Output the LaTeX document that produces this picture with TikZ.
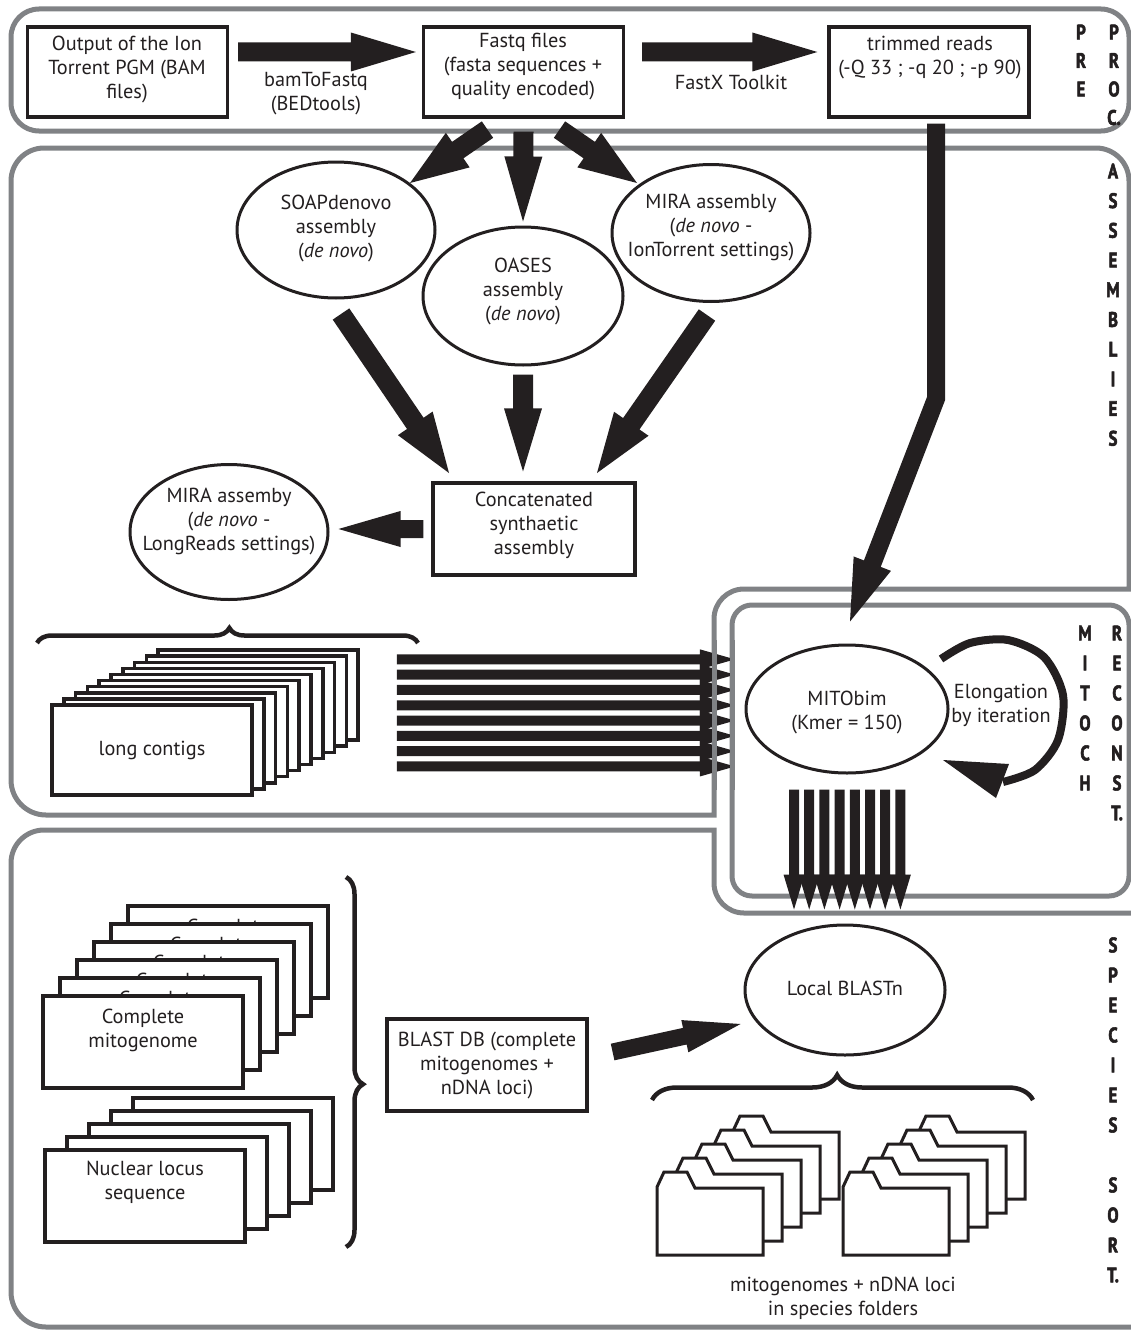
\documentclass[tikz,border=0pt]{standalone}
\usepackage{fontspec}
\setmainfont{PT Sans}
\newfontfamily\sidefont[FakeStretch=0.8,FakeBold=2.5]{PT Sans Bold}
\usetikzlibrary{calc,shapes.geometric,decorations.pathreplacing}
\definecolor{ink}{HTML}{231F20}
\definecolor{panelgray}{HTML}{808285}
% fat arrow: #1 start, #2 tip, #3 half shaft width, #4 head length, #5 half head width
\newcommand\fatarrow[5]{%
  \coordinate (fatC) at ($(#2)!#4!(#1)$);
  \fill[ink] ($(#1)!#3!90:(#2)$) -- ($(fatC)!#3!90:(#2)$) -- ($(fatC)!#5!90:(#2)$) -- (#2)
     -- ($(fatC)!#5!-90:(#2)$) -- ($(fatC)!#3!-90:(#2)$) -- ($(#1)!#3!-90:(#2)$) -- cycle;}
\begin{document}
\begin{tikzpicture}[x=1pt,y=-1pt,
  panel/.style={draw=panelgray, line width=5pt},
  box/.style={draw=ink, line width=3.2pt, fill=white, minimum width=200pt, minimum height=90pt, inner sep=0pt},
  ell/.style={ellipse, draw=ink, line width=3pt, fill=white, inner sep=0pt},
  txt/.style={align=center, font=\fontsize{20.3}{24}\selectfont, text=ink, inner sep=0pt},
  sidelab/.style={font=\sidefont\fontsize{21}{21}\selectfont, text=ink, inner sep=0pt},
  brc/.style={draw=ink, line width=4.5pt, decorate},
  folder/.style={draw=ink, line width=3pt, fill=white, line join=miter}]
\useasboundingbox (0,0) rectangle (1131,1330);

% ---------- panels ----------
\draw[panel, rounded corners=28pt] (11,9) rectangle (1129,131);
\draw[panel] (714,815) -- (46,815) arc[start angle=90,end angle=180,radius=35]
  -- (11,181) arc[start angle=180,end angle=270,radius=33]
  -- (1096,148) arc[start angle=270,end angle=360,radius=33]
  -- (1129,589) -- (744,589) arc[start angle=270,end angle=180,radius=30] -- cycle;
\draw[panel] (1140,1327) -- (46,1327) arc[start angle=90,end angle=180,radius=35]
  -- (11,863) arc[start angle=180,end angle=270,radius=33]
  -- (714,830) -- (714,883) arc[start angle=180,end angle=90,radius=30] -- (1140,913);
\draw[panel, rounded corners=20pt] (732,605) rectangle (1129,896);

% ---------- side labels ----------
\foreach \l [count=\i] in {P,R,E} \node[sidelab] (pre\i) at (1081,{32+28.5*(\i-1)}) {\l};
\foreach \l [count=\i] in {P,R,O,C.} \node[sidelab] (proc\i) at (1114,{32+28.5*(\i-1)}) {\l};
\foreach \l [count=\i] in {A,S,S,E,M,B,L,I,E,S} \node[sidelab] (asm\i) at (1113,{171+29.7*(\i-1)}) {\l};
\foreach \l [count=\i] in {M,I,T,O,C,H} \node[sidelab] (mit\i) at (1085,{633+30*(\i-1)}) {\l};
\foreach \l [count=\i] in {R,E,C,O,N,S,T.} \node[sidelab] (rec\i) at (1117,{633+30*(\i-1)}) {\l};
\foreach \l [count=\i] in {S,P,E,C,I,E,S} \node[sidelab] (spe\i) at (1113,{945+30*(\i-1)}) {\l};
\foreach \l [count=\i] in {S,O,R,T.} \node[sidelab] (srt\i) at (1113,{1185+30*(\i-1)}) {\l};

% ---------- top row ----------
\node[box] (b1) at (127.5,72) {};
\node[box] (b2) at (523.5,72) {};
\node[box] (b3) at (929,72) {};
\node[txt] (t1) at (127,70) {Output of the Ion\\Torrent PGM (BAM\\files)};
\node[txt] (t2) at (523,67) {Fastq files\\(fasta sequences +\\quality encoded)};
\node[txt] (t3) at (930,58) {trimmed reads\\(-Q 33 ; -q 20 ; -p 90)};
\node[txt] (l1) at (316,94) {bamToFastq\\(BEDtools)};
\node[txt] (l2) at (731,82) {FastX Toolkit};
\coordinate (a1s) at ($(b1.east)+(9,-20)$);
\coordinate (a1e) at ($(b2.west)+(-6,-20)$);
\fatarrow{a1s}{a1e}{9.5pt}{65pt}{19.5pt}
\coordinate (a2s) at ($(b2.east)+(17,-20)$);
\coordinate (a2e) at ($(b3.west)+(-10,-20)$);
\fatarrow{a2s}{a2e}{9.5pt}{65pt}{19.5pt}

% ---------- assemblies ----------
\node[ell, minimum width=198pt, minimum height=136pt] (soap) at (336,230) {};
\node[ell, minimum width=198pt, minimum height=137pt] (mira1) at (711,233) {};
\node[ell, minimum width=200pt, minimum height=138pt] (oases) at (523,296) {};
\node[box, minimum width=202pt, minimum height=92pt] (concat) at (534,529) {};
\node[ell, minimum width=198pt, minimum height=135pt] (mira2) at (229,532) {};
\node[txt] (t4) at (336,229) {SOAPdenovo\\assembly\\(\textit{de novo})};
\node[txt] (t5) at (523,292) {OASES\\assembly\\(\textit{de novo})};
\node[txt] (t6) at (711,228) {MIRA assembly\\(\textit{de novo} -\\IonTorrent settings)};
\node[txt] (t7) at (534,525) {Concatenated\\synthaetic\\assembly};
\node[txt] (t8) at (229,522) {MIRA assemby\\(\textit{de novo} -\\LongReads settings)};

\coordinate (f1s) at ($(b2.south)+(-36,11)$);
\coordinate (f1e) at ($(soap.center)+(74,-47)$);
\fatarrow{f1s}{f1e}{10pt}{58pt}{21pt}
\coordinate (f2s) at ($(b2.south)+(0,13)$);
\coordinate (f2e) at ($(oases.north)+(0,-4)$);
\fatarrow{f2s}{f2e}{10pt}{65pt}{19pt}
\coordinate (f3s) at ($(b2.south)+(36,11)$);
\coordinate (f3e) at ($(mira1.center)+(-74,-50)$);
\fatarrow{f3s}{f3e}{10pt}{58pt}{21pt}

\coordinate (c1s) at ($(soap.center)+(5,84)$);
\coordinate (c1e) at ($(concat.center)+(-85,-56)$);
\fatarrow{c1s}{c1e}{10pt}{60pt}{21pt}
\coordinate (c2s) at ($(oases.south)+(0,8)$);
\coordinate (c2e) at ($(concat.north)+(-11,-10)$);
\fatarrow{c2s}{c2e}{10pt}{63pt}{19pt}
\coordinate (c3s) at ($(mira1.center)+(-4,82)$);
\coordinate (c3e) at ($(concat.center)+(63,-56)$);
\fatarrow{c3s}{c3e}{10pt}{60pt}{21pt}
\coordinate (c4s) at ($(concat.west)+(-8,0)$);
\coordinate (c4e) at ($(mira2.east)+(9,-3)$);
\fatarrow{c4s}{c4e}{9pt}{62pt}{18pt}

% long contigs stack
\foreach \i in {9,...,0} \node[box, line width=3.5pt] (lc\i) at ({152+11.8*\i},{750-6.1*\i}) {};
\node[txt] (t14) at (lc0) {long contigs};
\draw[brc, decoration={brace, amplitude=15pt, aspect=0.505}] (37,643) -- (418,643);

% ---------- mito ----------
\node[ell, minimum width=202pt, minimum height=128pt] (mito) at (847,709) {};
\node[txt] (t9) at (847,712) {MITObim\\(Kmer = 150)};
\node[txt] (t10) at (1001,705) {Elongation\\by iteration};
\draw[ink, line width=8pt] plot[smooth] coordinates {(941,659) (970,643) (1008,640) (1044,657) (1063,695) (1058,740) (1035,770) (1003,782)};
\fill[ink] (943,760) -- (1009,764) -- (996,798) -- cycle;

% long arrow from trimmed reads to MITObim
\coordinate (la1) at ($(b3.south)+(7,5)$);
\coordinate (la2) at ($(b3.south)+(7,280)$);
\coordinate (la3) at ($(mito.north)+(3,-22)$);
\coordinate (laC) at ($(la3)!62pt!(la2)$);
\coordinate (laD) at ($(la3)!58pt!(la2)$);
\draw[ink, line width=18pt, line join=miter] (la1) -- (la2) -- (laD);
\fill[ink] ($(laC)!20pt!90:(la3)$) -- (la3) -- ($(laC)!20pt!-90:(la3)$) -- cycle;

% horizontal arrows into MITObim panel
\foreach \i in {0,...,7}{
  \coordinate (hs\i) at ($(lc9.north east)+(37,{11+15.3*\i})$);
  \coordinate (he\i) at ($(hs\i)+(338,0)$);
  \fatarrow{hs\i}{he\i}{5pt}{35pt}{10pt}
}
\draw[panel] (714,640) -- (714,790);
\draw[panel] (732,640) -- (732,790);

% vertical arrows out of MITObim
\foreach \i in {0,...,7}{
  \coordinate (vs\i) at ($(mito.south)+({-53+15.2*\i},15)$);
  \coordinate (ve\i) at ($(vs\i)+(0,120)$);
  \fatarrow{vs\i}{ve\i}{5pt}{35pt}{10.5pt}
}

% ---------- species sort ----------
\foreach \i in {5,...,0}{
  \node[box, minimum height=92pt] (mg\i) at ({143+17*\i},{1042-18*\i}) {};
  \node[txt] (mgt\i) at ($(mg\i)+(0,-12)$) {Complete\\mitogenome};
}
\foreach \i in {4,...,0} \node[box, minimum height=92pt] (nl\i) at ({145+22*\i},{1196-13*\i}) {};
\node[txt] (t15) at ($(nl0)+(0,-13.5)$) {Nuclear locus\\sequence};
\draw[brc, decoration={brace, amplitude=17pt, aspect=0.56}] (346,877) -- (346,1247);

\node[box, minimum height=92pt] (blastdb) at (487,1065) {};
\node[txt] (t12) at (487,1065) {BLAST DB (complete\\mitogenomes +\\nDNA loci)};
\node[ell, minimum width=200pt, minimum height=130pt] (blastn) at (845,990) {};
\node[txt] (t11) at (845,988) {Local BLASTn};
\coordinate (bs) at ($(blastdb.east)+(24,-13)$);
\coordinate (be) at ($(blastn.west)+(-3,34)$);
\fatarrow{bs}{be}{8.5pt}{57pt}{16.5pt}

\draw[brc, decoration={brace, amplitude=25pt, aspect=0.486}] (652,1100) -- (1033,1100);
\foreach \g in {657,843}{
  \foreach \i in {4,...,0}{
    \filldraw[folder] ({\g+19*\i},{1255-14*\i}) -- ++(0,-68) -- ++(7,-15) -- ++(23,0) -- ++(8,16) -- ++(68,0) -- ++(0,67) -- cycle;
  }
}
\node[txt] (t13) at (843,1298) {mitogenomes + nDNA loci\\in species folders};
\end{tikzpicture}
\end{document}
